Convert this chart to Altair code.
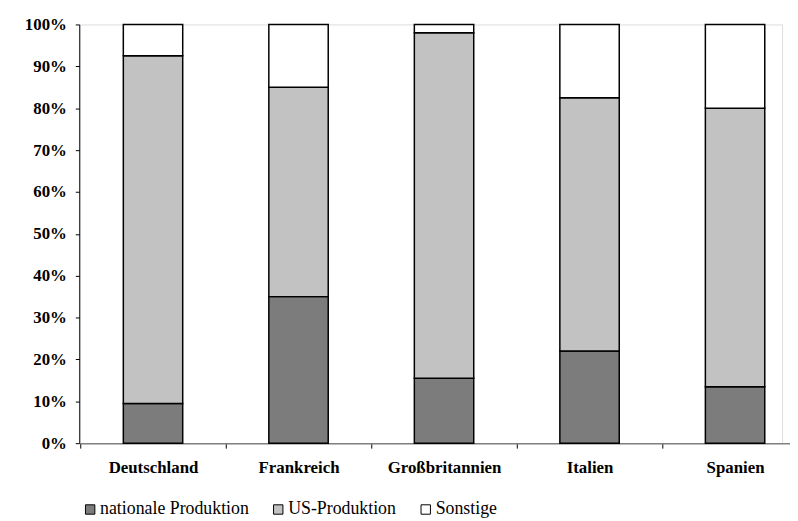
import altair as alt
import pandas as pd

countries = ["Deutschland", "Frankreich", "Großbritannien", "Italien", "Spanien"]
series = ["nationale Produktion", "US-Produktion", "Sonstige"]
national = [0.095, 0.35, 0.155, 0.22, 0.135]
us_prod = [0.83, 0.50, 0.825, 0.605, 0.665]
sonstige = [0.075, 0.15, 0.02, 0.175, 0.20]
y_ticks = [0, 0.1, 0.2, 0.3, 0.4, 0.5, 0.6, 0.7, 0.8, 0.9, 1.0]
colors = ["#7c7c7c", "#c2c2c2", "#ffffff"]

rows = []
for i, c in enumerate(countries):
    for k, (s, vals) in enumerate(zip(series, [national, us_prod, sonstige])):
        rows.append({"Land": c, "Kategorie": s, "Anteil": vals[i], "ord": k})
df = pd.DataFrame(rows)

font = "Times New Roman, Liberation Serif, DejaVu Serif, serif"

chart = (
    alt.Chart(df)
    .mark_bar(size=60, stroke="black", strokeWidth=1.5)
    .encode(
        x=alt.X(
            "Land:N",
            sort=countries,
            title=None,
            scale=alt.Scale(range=[1, 736], paddingInner=0, paddingOuter=0),
            axis=alt.Axis(
                labelAngle=0,
                labelFont=font,
                labelFontWeight="bold",
                labelFontSize=17,
                labelColor="black",
                labelPadding=12,
                tickBand="extent",
                tickSize=5,
                tickColor="black",
                domainColor="#808080",
                domainWidth=1.5,
            ),
        ),
        y=alt.Y(
            "Anteil:Q",
            stack="zero",
            title=None,
            scale=alt.Scale(domain=[0, 1], nice=False),
            axis=alt.Axis(
                values=y_ticks,
                format=".0%",
                grid=False,
                labelFont=font,
                labelFontWeight="bold",
                labelFontSize=17,
                labelColor="black",
                labelPadding=9,
                tickSize=4,
                tickColor="black",
                domainColor="black",
            ),
        ),
        color=alt.Color(
            "Kategorie:N",
            sort=series,
            scale=alt.Scale(domain=series, range=colors),
            legend=alt.Legend(
                title=None,
                orient="none",
                direction="horizontal",
                legendX=2,
                legendY=481,
                symbolType="square",
                symbolSize=90,
                symbolStrokeColor="black",
                symbolStrokeWidth=1,
                labelFont=font,
                labelFontSize=18,
                labelColor="black",
                labelOffset=1,
                columnPadding=20,
            ),
        ),
        order=alt.Order("ord:Q", sort="ascending"),
    )
    .properties(
        width=710,
        height=423,
        autosize=alt.AutoSizeParams(type="none"),
        padding={"left": 72, "top": 14, "right": 8, "bottom": 76},
    )
    .configure_view(stroke=None)
    .configure(background="white")
)

chart.save("out.html", embed_options={"renderer": "svg", "actions": False})
